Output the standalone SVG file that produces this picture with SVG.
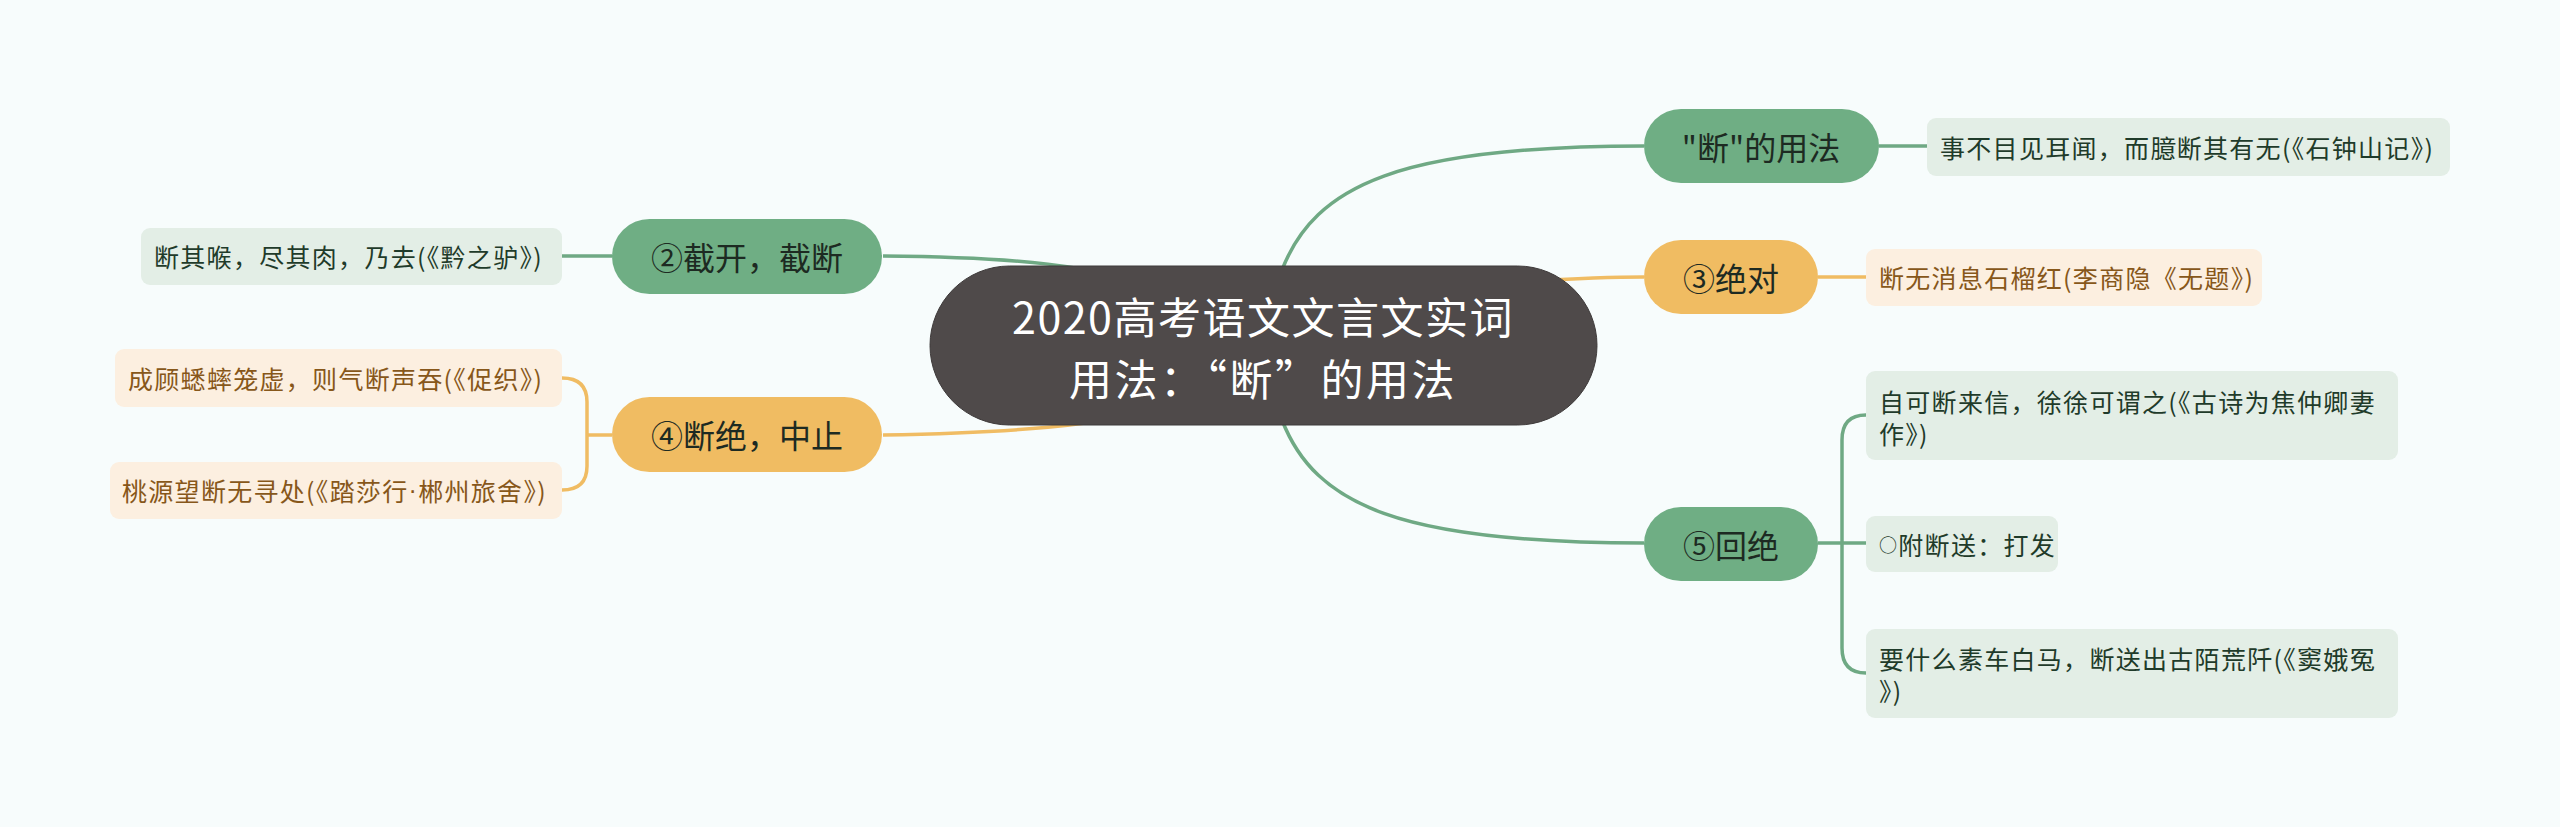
<svg xmlns="http://www.w3.org/2000/svg" width="2560" height="827" viewBox="0 0 2560 827">
<style>
.t{font-family:"Noto Sans CJK SC","Noto Sans",sans-serif;dominant-baseline:central}
.g{fill:none;stroke:#6fa984;stroke-width:3.5}
.o{fill:none;stroke:#f0bc63;stroke-width:3.5}
.mg{fill:#6fae84}
.mo{fill:#f0bc62}
.mt{font-size:32px;fill:#1d2a22;text-anchor:middle}
.lg{fill:#e3eee6}
.lo{fill:#fcefe0}
.lgt{font-size:25px;fill:#1f3b2a;letter-spacing:1.3px}
.lot{font-size:25px;fill:#87571a;letter-spacing:1.3px}
.nar{font-family:"Liberation Sans",sans-serif}
</style>
<rect width="2560" height="827" fill="#f7fcfc"/>
<g id="connectors">
<path class="g" d="M1282,270 C1315,185 1400,146 1644,146"/>
<path class="o" d="M1480,284 C1560,279 1600,277 1644,277"/>
<path class="g" d="M1282,420 C1315,505 1400,543 1644,543"/>
<path class="g" d="M883,256 C1000,257 1100,262 1200,300"/>
<path class="o" d="M883,435 C1000,433 1100,428 1200,400"/>
<path class="g" d="M1879,146 H1927"/>
<path class="o" d="M1818,277 H1866"/>
<path class="g" d="M562,256 H612"/>
<path class="o" d="M562,378 Q587,378 587,402 V466 Q587,490 562,490 M587,435 H612"/>
<path class="g" d="M1866,415 Q1842,415 1842,440 V648 Q1842,673 1866,673 M1818,543 H1866"/>
</g>
<g id="root">
<rect x="930" y="266" width="667" height="159" rx="79.5" fill="#4f4a4a" stroke="#3e3a3a" stroke-width="1"/>
<text class="t" x="1263" y="315" font-size="43" letter-spacing="1.5" fill="#ffffff" text-anchor="middle">2020高考语文文言文实词</text>
<text class="t" x="1263" y="377" font-size="43" letter-spacing="2.5" fill="#ffffff" text-anchor="middle">用法：“断”的用法</text>
</g>
<g id="n1">
<rect class="mg" x="1644" y="109" width="235" height="74" rx="37"/>
<text class="t mt" x="1761" y="146">"断"的用法</text>
</g>
<g id="n1a">
<rect class="lg" x="1927" y="118" width="523" height="58" rx="9"/>
<text class="t lgt" x="1940" y="147">事不目见耳闻，而臆断其有无(《石钟山记》)</text>
</g>
<g id="n3">
<rect class="mo" x="1644" y="240" width="174" height="74" rx="37"/>
<text class="t mt" x="1731" y="277">③绝对</text>
</g>
<g id="n3a">
<rect class="lo" x="1866" y="249" width="396" height="57" rx="9"/>
<text class="t lot" x="1879" y="277">断无消息石榴红(李商隐《无题》)</text>
</g>
<g id="n2">
<rect class="mg" x="612" y="219" width="270" height="75" rx="37.5"/>
<text class="t mt" x="747" y="256">②截开，截断</text>
</g>
<g id="n2a">
<rect class="lg" x="141" y="228" width="421" height="57" rx="9"/>
<text class="t lgt" x="154" y="256">断其喉，尽其肉，乃去(《黔之驴》)</text>
</g>
<g id="n4">
<rect class="mo" x="612" y="397" width="270" height="75" rx="37.5"/>
<text class="t mt" x="747" y="434">④断绝，中止</text>
</g>
<g id="n4a">
<rect class="lo" x="115" y="349" width="447" height="58" rx="9"/>
<text class="t lot" x="128" y="378">成顾蟋蟀笼虚，则气断声吞(《促织》)</text>
</g>
<g id="n4b">
<rect class="lo" x="110" y="462" width="452" height="57" rx="9"/>
<text class="t lot" x="122" y="490">桃源望断无寻处(《踏莎行<tspan class="nar">·</tspan>郴州旅舍》)</text>
</g>
<g id="n5">
<rect class="mg" x="1644" y="507" width="174" height="74" rx="37"/>
<text class="t mt" x="1731" y="544">⑤回绝</text>
</g>
<g id="n5a">
<rect class="lg" x="1866" y="371" width="532" height="89" rx="9"/>
<text class="t lgt" x="1879" y="401">自可断来信，徐徐可谓之(《古诗为焦仲卿妻</text>
<text class="t lgt" x="1879" y="433">作》)</text>
</g>
<g id="n5b">
<rect class="lg" x="1866" y="516" width="192" height="56" rx="9"/>
<text class="t lgt" x="1879" y="544"><tspan font-size="18">○</tspan>附断送：打发</text>
</g>
<g id="n5c">
<rect class="lg" x="1866" y="629" width="532" height="89" rx="9"/>
<text class="t lgt" x="1879" y="658">要什么素车白马，断送出古陌荒阡(《窦娥冤</text>
<text class="t lgt" x="1879" y="690">》)</text>
</g>
</svg>
